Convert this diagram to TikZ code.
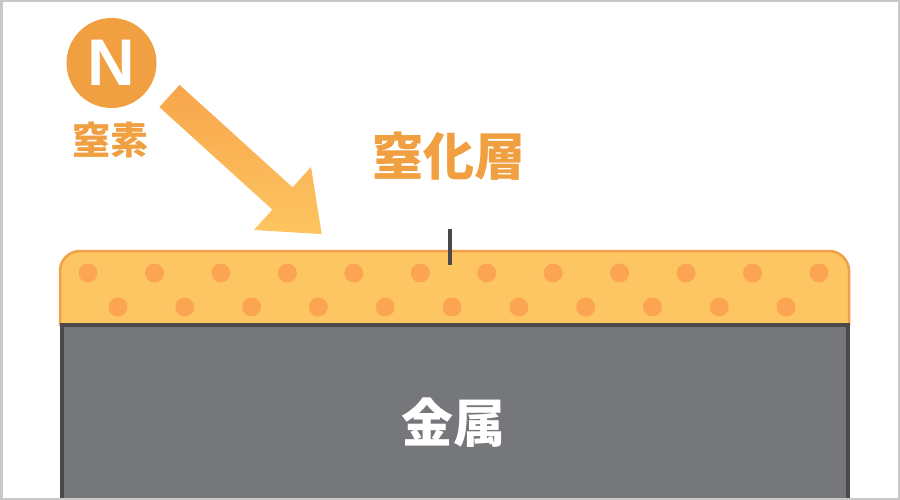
\documentclass[tikz,border=0pt]{standalone}
\usepackage{fontspec}
\newfontfamily\cjk{Noto Sans CJK JP}
\newfontfamily\latn{Liberation Sans}
\definecolor{nitro}{HTML}{F0A040}
\definecolor{layerfill}{HTML}{FDC662}
\definecolor{layeredge}{HTML}{F0A048}
\definecolor{dotc}{HTML}{FBA552}
\definecolor{metalfill}{HTML}{76777B}
\definecolor{metaledge}{HTML}{4A4A4C}
\definecolor{framec}{HTML}{C8C8C8}
\definecolor{arrowA}{HTML}{F8A54C}
\definecolor{arrowB}{HTML}{FDC560}
\tikzset{
  dotstyle/.style={fill=dotc, draw=none},
  labelstyle/.style={font=\cjk\bfseries, inner sep=0pt},
}
\begin{document}
\begin{tikzpicture}[x=1pt,y=-1pt]
\useasboundingbox (0,0) rectangle (900,500);
\fill[white] (0,0) rectangle (900,500);
% nitride layer
\draw[fill=layerfill, draw=layeredge, line width=2.5pt, rounded corners=20pt]
  (60,326) -- (60,251) -- (849,251) -- (849,326);
\foreach \i in {0,...,11} {
  \fill[dotstyle] ({88+66.45*\i},273) circle (9.5);
}
\foreach \i in {0,...,10} {
  \fill[dotstyle] ({118+66.8*\i},307) circle (9.5);
}
% metal
\begin{scope}
\clip (0,0) rectangle (900,500);
\draw[fill=metalfill, draw=metaledge, line width=4pt] (61.5,325) rectangle (847.5,520);
\end{scope}
\node[labelstyle, text=white, font=\cjk\bfseries\fontsize{52}{52}\selectfont] (metal) at (453,423) {金属};
% tick
\coordinate (tickTop) at (450,229);
\coordinate (tickBot) at (450,265);
\draw[metaledge, line width=3.5pt] (tickTop) -- (tickBot);
% title
\node[labelstyle, text=nitro, font=\cjk\bfseries\fontsize{51}{51}\selectfont] (title) at (449,156) {窒化層};
% N circle
\node[circle, fill=nitro, minimum size=90pt, inner sep=0pt, text=white,
      font=\latn\bfseries\fontsize{66}{66}\selectfont] (nN) at (111.5,63) {N};
\node[labelstyle, text=nitro, font=\cjk\bfseries\fontsize{38}{38}\selectfont] (nlabel) at (110.5,139.5) {窒素};
% arrow
\shade[top color=arrowA, bottom color=arrowB, shading angle=0]
  (159.4,107.1) -- (272.4,209.6) -- (254,230) -- (321.7,234.1) -- (311,167) -- (292.6,187.4) -- (179.6,84.9) -- cycle;
% frame
\draw[framec, line width=2.5pt] (1.25,1.25) rectangle (898.75,498.75);
\end{tikzpicture}
\end{document}
